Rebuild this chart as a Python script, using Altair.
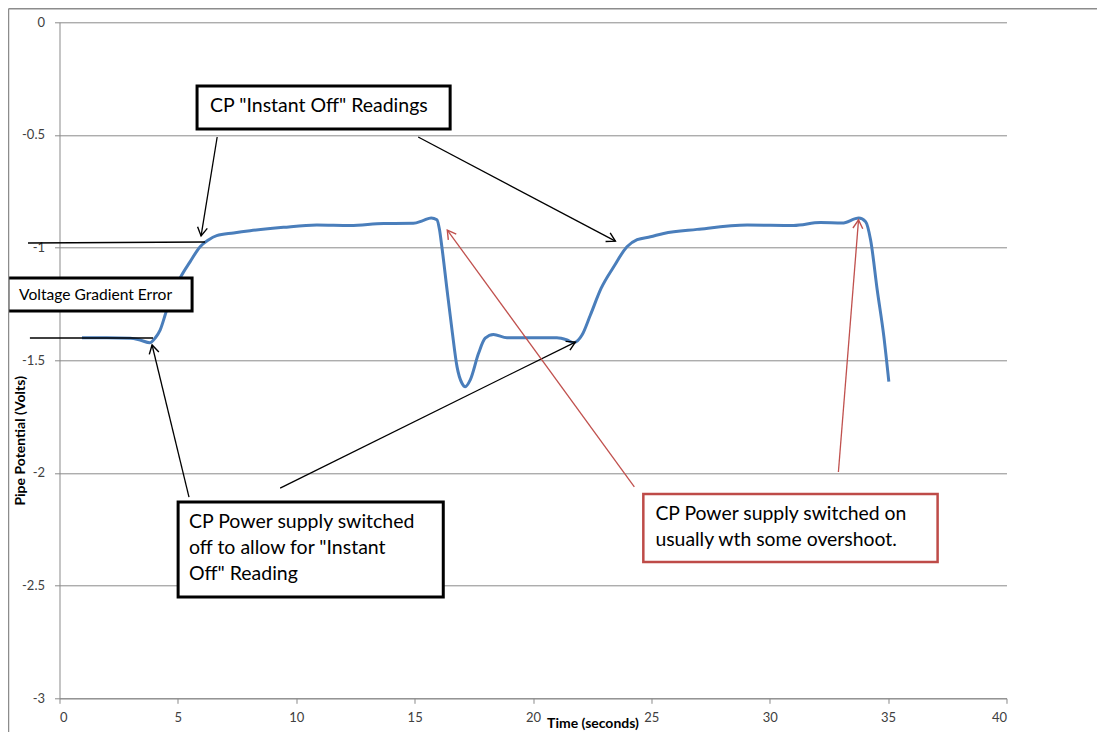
import math
import altair as alt
import pandas as pd

# ---------------- data ----------------
time_s = [0.95, 2.0, 3.0, 3.4, 3.82, 4.05, 4.25, 4.53, 5.09, 5.52, 5.94, 6.29, 6.64, 7.35,
          8.05, 9.46, 10.87, 12.28, 13.69, 14.95, 15.35, 15.7, 15.94, 16.05, 16.15, 16.37,
          16.58, 16.79, 17.0, 17.14, 17.35, 17.7, 17.98, 18.33, 18.9, 20.03, 21.01, 21.44,
          21.72, 22.07, 22.42, 22.88, 23.41, 23.97, 24.4, 24.96, 25.52, 26.93, 29.05, 31.01,
          32.14, 33.06, 33.76, 34.05, 34.26, 34.54, 34.82, 35.03]
volts = [-1.40, -1.40, -1.402, -1.41, -1.422, -1.40, -1.366, -1.277, -1.136, -1.062, -0.996,
         -0.966, -0.947, -0.935, -0.925, -0.910, -0.900, -0.902, -0.893, -0.892, -0.880,
         -0.868, -0.876, -0.92, -0.996, -1.188, -1.366, -1.528, -1.602, -1.617, -1.587,
         -1.469, -1.402, -1.385, -1.40, -1.40, -1.40, -1.41, -1.422, -1.388, -1.30, -1.18,
         -1.085, -0.996, -0.965, -0.952, -0.937, -0.919, -0.90, -0.902, -0.889, -0.891,
         -0.869, -0.885, -0.966, -1.188, -1.395, -1.595]

x_ticks = [0, 5, 10, 15, 20, 25, 30, 35, 40]
y_ticks = [0, -0.5, -1, -1.5, -2, -2.5, -3]

# annotation boxes (data units): x, x2, y, y2, stroke colour, stroke width
box_x = [5.81, -2.18, 5.01, 24.66]
box_x2 = [16.50, 5.60, 16.21, 37.09]
box_y = [-0.283, -1.135, -2.129, -2.093]
box_y2 = [-0.474, -1.281, -2.551, -2.395]
box_color = ["#000000", "#000000", "#000000", "#BE4B48"]
box_width = [3, 3, 3, 2.5]

# annotation text lines
txt = ['CP "Instant Off" Readings', "Voltage Gradient Error",
       "CP Power supply switched", 'off to allow for "Instant', 'Off" Reading',
       "CP Power supply switched on", "usually wth some overshoot."]
txt_x = [6.36, -1.71, 5.47, 5.47, 5.47, 25.17, 25.17]
txt_y = [-0.372, -1.21, -2.218, -2.333, -2.448, -2.182, -2.298]
txt_size = [19.5, 15.6, 19.5, 19.5, 19.5, 19.4, 19.4]

# arrows: start -> tip
arr_x = [6.66, 15.15, 5.47, 9.32, 24.28, 32.90]
arr_y = [-0.509, -0.509, -2.107, -2.067, -2.062, -1.996]
arr_x2 = [5.98, 23.48, 3.91, 21.79, 16.38, 33.75]
arr_y2 = [-0.948, -0.971, -1.432, -1.419, -0.922, -0.877]
arr_color = ["#000000", "#000000", "#000000", "#000000", "#C0504D", "#C0504D"]

# plain reference lines
ln_x = [-1.33, -1.25]
ln_x2 = [6.15, 3.95]
ln_y = [-0.979, -1.401]
ln_y2 = [-0.975, -1.401]

# ---------------- chart ----------------
W, H = 947, 676
FONT = "Lato"
GRID = "#8a8a8a"

xs = alt.Scale(domain=[0, 40], nice=False, zero=False)
ys = alt.Scale(domain=[-3, 0], nice=False, zero=False)

x_axis = alt.Axis(
    values=x_ticks, grid=False, title="Time (seconds)", titleFont=FONT,
    titleFontSize=14, titleFontWeight="bold", titleColor="#000000",
    titleX=533, titleY=25, titleBaseline="middle", titleAlign="center",
    labelFont=FONT, labelFontSize=13, labelColor="#404040", labelPadding=8,
    tickSize=5, tickColor=GRID, domainColor=GRID, labelExpr="'' + datum.value")
y_axis = alt.Axis(
    values=y_ticks, grid=True, gridColor=GRID, title="Pipe Potential (Volts)",
    titleFont=FONT, titleFontSize=14, titleFontWeight="bold", titleColor="#000000",
    titleX=-39.5, titleY=418, titleAngle=270, titleBaseline="middle", titleAlign="center",
    labelFont=FONT, labelFontSize=13, labelColor="#404040", labelPadding=10,
    tickSize=5, tickColor=GRID, domainColor=GRID, labelExpr="'' + datum.value")


def X(f):
    return alt.X(f, type="quantitative", scale=xs, axis=x_axis)


def Y(f):
    return alt.Y(f, type="quantitative", scale=ys, axis=y_axis)


curve_df = pd.DataFrame({"t": time_s, "v": volts})

curve = alt.Chart(curve_df).mark_line(
    interpolate="monotone", color="#4A7EBB", strokeWidth=3
).encode(x=X("t"), y=Y("v"))

lines_df = pd.DataFrame({"x": ln_x, "x2": ln_x2, "y": ln_y, "y2": ln_y2})
lines = alt.Chart(lines_df).mark_rule(color="#000000", strokeWidth=1.5).encode(
    x=X("x"), x2="x2", y=Y("y"), y2="y2")

sx, sy = W / 40.0, H / 3.0
angles = []
for a, b, c, d in zip(arr_x, arr_y, arr_x2, arr_y2):
    dx = (c - a) * sx
    dy = -(d - b) * sy
    angles.append(math.degrees(math.atan2(dx, -dy)) % 360)

arr_df = pd.DataFrame({"x": arr_x, "y": arr_y, "x2": arr_x2, "y2": arr_y2,
                       "col": arr_color, "ang": angles})
arrow_lines = alt.Chart(arr_df).mark_rule(strokeWidth=1.3).encode(
    x=X("x"), x2="x2", y=Y("y"), y2="y2", color=alt.Color("col:N", scale=None))
arrow_heads = alt.Chart(arr_df).mark_point(
    shape="M -0.55 0.95 L 0 0 L 0.55 0.95", filled=False, size=320, strokeWidth=1.4,
    opacity=1
).encode(x=X("x2"), y=Y("y2"), stroke=alt.Stroke("col:N", scale=None),
         angle=alt.Angle("ang:Q", scale=None))

box_df = pd.DataFrame({"x": box_x, "x2": box_x2, "y": box_y, "y2": box_y2,
                       "sc": box_color, "sw": box_width})
boxes = alt.Chart(box_df).mark_rect(fill="white").encode(
    x=X("x"), x2="x2", y=Y("y"), y2="y2",
    stroke=alt.Stroke("sc:N", scale=None), strokeWidth=alt.StrokeWidth("sw:Q", scale=None))

txt_df = pd.DataFrame({"x": txt_x, "y": txt_y, "txt": txt, "fs": txt_size})
texts = alt.Chart(txt_df).mark_text(align="left", baseline="middle", font=FONT,
                                    color="#000000").encode(
    x=X("x"), y=Y("y"), text="txt:N", size=alt.Size("fs:Q", scale=None))

frame_src = pd.DataFrame({"k": [0]})
frame_left = alt.Chart(frame_src).mark_rule(color="#8c8c8c", strokeWidth=1.5).encode(
    x=alt.value(-51), y=alt.value(-13.5), y2=alt.value(740))
frame_top = alt.Chart(frame_src).mark_rule(color="#8c8c8c", strokeWidth=1.5).encode(
    x=alt.value(-51), x2=alt.value(1037.5), y=alt.value(-13.5))

chart = alt.layer(
    curve, lines, arrow_lines, arrow_heads, boxes, texts, frame_left, frame_top
).properties(
    width=W, height=H,
    autosize=alt.AutoSizeParams(type="none"),
    padding={"left": 51.5, "top": 14.3, "right": 100, "bottom": 34},
    background="white",
).configure_view(stroke=None)

chart.save("out.html", embed_options={"renderer": "svg", "actions": False})
